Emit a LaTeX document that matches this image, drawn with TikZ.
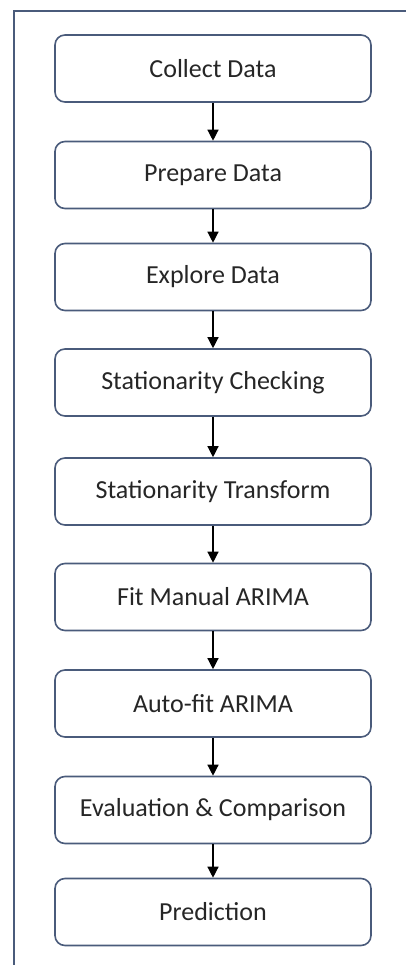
\documentclass[tikz,border=0pt]{standalone}
\usepackage{fontspec}
\setmainfont{Carlito}
\usetikzlibrary{arrows.meta}
\definecolor{edgeblue}{HTML}{4A5B7B}
\definecolor{txt}{HTML}{262626}
\tikzset{
  stepbox/.style={draw=edgeblue, line width=1.6pt, rounded corners=10pt, fill=white,
    minimum width=316pt, minimum height=67pt, inner sep=0pt, text=txt,
    font=\fontsize{26pt}{30pt}\selectfont},
  flow/.style={draw=black, line width=1.3pt, -{Triangle[width=11pt,length=11pt]}},
  frame/.style={draw=edgeblue, line width=2pt}
}
\begin{document}
\begin{tikzpicture}[x=1pt,y=-1pt]
\useasboundingbox (0,0) rectangle (406,965);
\fill[white] (0,0) rectangle (406,965);
\draw[frame] (14,965) -- (14,11) -- (406,11);
\node[stepbox] (n1) at (213,68.5) {Collect Data};
\node[stepbox] (n2) at (213,175) {Prepare Data};
\node[stepbox] (n3) at (213,277) {Explore Data};
\node[stepbox] (n4) at (213,382.5) {Stationarity Checking};
\node[stepbox] (n5) at (213,491.5) {Stationarity Transform};
\node[stepbox] (n6) at (213,597) {Fit Manual ARIMA};
\node[stepbox] (n7) at (213,703.5) {Auto-fit ARIMA};
\node[stepbox] (n8) at (213,810) {Evaluation \& Comparison};
\node[stepbox] (n9) at (213,912) {Prediction};
\foreach \a/\b in {n1/n2,n2/n3,n3/n4,n4/n5,n5/n6,n6/n7,n7/n8,n8/n9}
  \draw[flow] (\a.south) -- (\b.north);
\end{tikzpicture}
\end{document}
